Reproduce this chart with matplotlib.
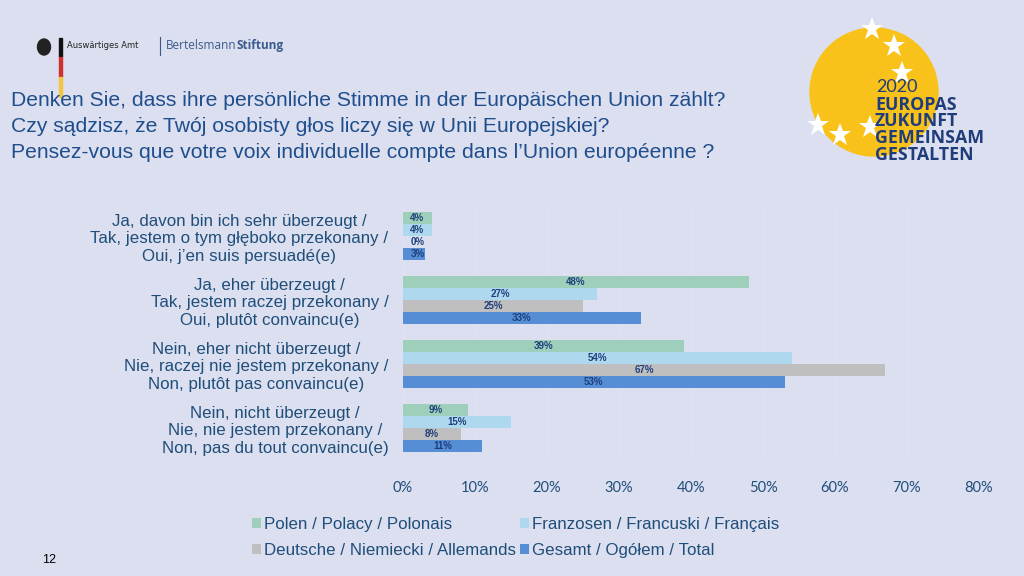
import matplotlib
matplotlib.use('Agg')
import matplotlib.pyplot as plt
from matplotlib.patches import Circle, Rectangle, Ellipse
import numpy as np

plt.rcParams['font.family'] = ['Liberation Sans', 'DejaVu Sans']

# ── data ──
categories = [
    'Ja, davon bin ich sehr überzeugt /\nTak, jestem o tym głęboko przekonany /\nOui, j\u2019en suis persuadé(e)',
    'Ja, eher überzeugt /\nTak, jestem raczej przekonany /\nOui, plutôt convaincu(e)',
    'Nein, eher nicht überzeugt /\nNie, raczej nie jestem przekonany /\nNon, plutôt pas convaincu(e)',
    'Nein, nicht überzeugt /\nNie, nie jestem przekonany /\nNon, pas du tout convaincu(e)',
]
series_names = ['Polen / Polacy / Polonais',
                'Franzosen / Francuski / Français',
                'Deutsche / Niemiecki / Allemands',
                'Gesamt / Ogółem / Total']
polen = [4, 48, 39, 9]
franzosen = [4, 27, 54, 15]
deutsche = [0, 25, 67, 8]
gesamt = [3, 33, 53, 11]
series_values = [polen, franzosen, deutsche, gesamt]
x_ticks = [0, 10, 20, 30, 40, 50, 60, 70, 80]

BG = '#DCDFF0'
NAVY = '#1F4E79'
TITLE_C = '#1F4E8C'
COLORS = ['#9DCFBA', '#AED8EE', '#BFBFBF', '#558ED5']

W, H = 1024, 576
fig = plt.figure(figsize=(W / 100, H / 100), dpi=100, facecolor=BG)


def fx(px):
    return px / W


def fy(py):
    return 1 - py / H


# ── main bar axes ──
ax = fig.add_axes([fx(403), fy(460), fx(979) - fx(403), 256 / H])
ax.set_facecolor(BG)
h = 0.19
centers = np.arange(len(categories))
offsets = (np.arange(4) - 1.5) * h
bars = []
for i, vals in enumerate(series_values):
    b = ax.barh(centers + offsets[i], vals, height=h, color=COLORS[i],
                label=series_names[i], zorder=2)
    bars.append(b)
    for c, v in zip(centers, vals):
        ax.text(max(v / 2, 2), c + offsets[i], f'{v}%', ha='center', va='center',
                fontsize=7, color='#1E3F7B', fontweight='bold', zorder=3)

ax.set_xlim(0, 80)
ax.set_ylim(3.5, -0.5)
ax.set_xticks(x_ticks)
ax.set_xticklabels([f'{t}%' for t in x_ticks], family='Lato', fontsize=10.5, color=NAVY)
ax.set_yticks(centers)
ax.set_yticklabels(categories, fontsize=12.2, color=NAVY, multialignment='center',
                   linespacing=1.2)
ax.tick_params(axis='x', length=0, pad=15)
ax.tick_params(axis='y', length=0, pad=10.5)
for s in ax.spines.values():
    s.set_visible(False)
ax.grid(axis='x', color='#E0E3F2', linewidth=0.8, zorder=0)
ax.set_axisbelow(True)

# ── legend ──
leg = fig.legend(handles=[bars[0], bars[2], bars[1], bars[3]],
                 labels=[series_names[0], series_names[2], series_names[1], series_names[3]],
                 ncol=2, loc='upper left', bbox_to_anchor=(fx(237), fy(502)),
                 frameon=False, fontsize=12.2, handlelength=0.5, handleheight=0.5,
                 handletextpad=0.2, columnspacing=0.25, labelspacing=0.65)
for t in leg.get_texts():
    t.set_color(NAVY)

# ── title ──
title_lines = ['Denken Sie, dass ihre persönliche Stimme in der Europäischen Union zählt?',
               'Czy sądzisz, że Twój osobisty głos liczy się w Unii Europejskiej?',
               'Pensez-vous que votre voix individuelle compte dans l\u2019Union européenne ?']
for line, yy in zip(title_lines, [100, 127, 153]):
    fig.text(fx(11), fy(yy), line, fontsize=15.2, color=TITLE_C, va='center', ha='left')

# ── decorations (logos, page number) ──
deco = fig.add_axes([0, 0, 1, 1], zorder=-1)
deco.set_xlim(0, W)
deco.set_ylim(H, 0)
deco.axis('off')
deco.patch.set_alpha(0)

deco.add_patch(Ellipse((44, 47), 13, 16, color='#222222'))
deco.add_patch(Rectangle((59, 38), 2.5, 19, color='#111111'))
deco.add_patch(Rectangle((59, 57), 2.5, 20, color='#D0312D'))
deco.add_patch(Rectangle((59, 77), 2.5, 20, color='#F2C641'))
deco.text(67, 45, 'Auswärtiges Amt', fontsize=6, color='#222222', va='center',
          family='Liberation Sans Narrow')
deco.plot([160, 160], [37, 55], color='#3A5A8C', lw=0.8)
bt = deco.text(166, 49, 'Bertelsmann', fontsize=8.5, color='#3A5A8C', va='baseline',
               family='Open Sans')
deco.annotate('Stiftung', xy=(1, 0), xycoords=bt, va='bottom', ha='left',
              fontsize=8.5, color='#3A5A8C', family='Open Sans', fontweight='bold')

deco.add_patch(Circle((874, 92), 64, color='#F9C21B'))
stars_x = [872, 894, 902, 870, 840, 818]
stars_y = [29, 46, 73, 127, 135, 125]
deco.plot(stars_x, stars_y, linestyle='none', marker='*', markersize=17,
          color='white', markeredgewidth=0)
deco.text(876, 87, '2020', fontsize=13, color='#1F3D7A', va='center', family='Lato')
for txt, yy in zip(['EUROPAS', 'ZUKUNFT', 'GEMEINSAM', 'GESTALTEN'], [105, 121, 138, 155]):
    deco.text(875, yy, txt, fontsize=12.8, color='#1F3D7A', va='center', family='Open Sans',
              fontweight='bold')

deco.text(42, 560, '12', fontsize=9, color='black', va='center')

fig.savefig('out.png', dpi=100, facecolor=BG)
